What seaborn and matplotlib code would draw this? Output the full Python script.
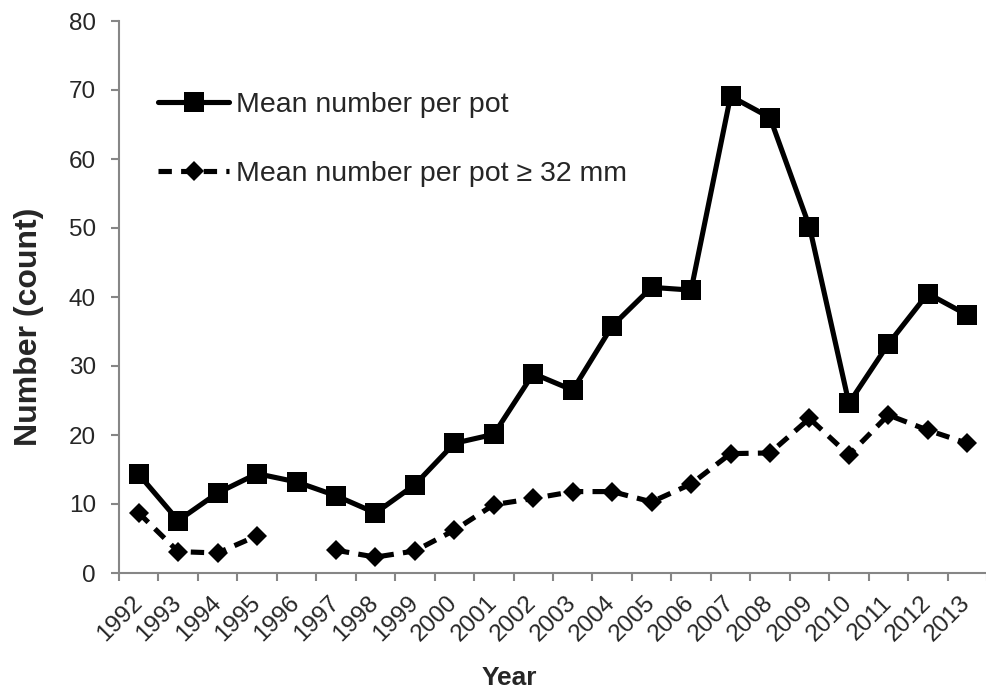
import numpy as np
import pandas as pd
import matplotlib
matplotlib.use("Agg")
import matplotlib.pyplot as plt
import seaborn as sns

years = list(range(1992, 2014))
mean_per_pot = [14.3, 7.6, 11.6, 14.4, 13.2, 11.2, 8.7, 12.8, 18.8, 20.1, 28.9,
                26.5, 35.8, 41.4, 41.0, 69.1, 66.0, 50.2, 24.6, 33.2, 40.5, 37.4]
mean_per_pot_32 = [8.7, 3.1, 2.9, 5.4, np.nan, 3.3, 2.3, 3.2, 6.2, 9.9, 10.8,
                   11.8, 11.8, 10.3, 12.9, 17.3, 17.4, 22.4, 17.1, 22.9, 20.7, 18.8]
label_all = "Mean number per pot"
label_32 = "Mean number per pot \u2265 32 mm"
yticks = [0, 10, 20, 30, 40, 50, 60, 70, 80]

sns.set_theme(style="white")
plt.rcParams["font.family"] = ["Liberation Sans", "DejaVu Sans"]

df1 = pd.DataFrame({"year": years, "value": mean_per_pot})
df2 = pd.DataFrame({"year": years, "value": mean_per_pot_32})
# break the dashed line where data are missing
df2["segment"] = df2["value"].isna().cumsum()
df2 = df2.dropna()

W, H = 987, 689
fig = plt.figure(figsize=(W / 100, H / 100), dpi=100)
ax = fig.add_axes([119 / W, (H - 573) / H, 868 / W, 552 / H])

lw = 3.7
sns.lineplot(data=df1, x="year", y="value", ax=ax, color="black", lw=lw,
             marker="s", markersize=14.8, markeredgewidth=0, label=label_all)
sns.lineplot(data=df2, x="year", y="value", units="segment", estimator=None, ax=ax,
             color="black", lw=lw, linestyle=(0, (2.6, 1.8)),
             marker="D", markersize=9.9, markeredgewidth=0, label=label_32)

ax.set_xlim(1991.5, 1991.5 + 868 / 39.8)
ax.set_ylim(0, 80)
ax.set_yticks(yticks)
ax.set_xticks(years)
ax.set_xticklabels([str(y) for y in years], rotation=45, ha="right", va="center",
                   rotation_mode="anchor", fontsize=17.5)
ax.set_xticks([y - 0.5 for y in years] + [years[-1] + 0.5], minor=True)
ax.tick_params(axis="x", which="major", length=0, pad=19)
ax.tick_params(axis="x", which="minor", length=5.5, width=1.5, color="#868686",
               direction="out", bottom=True)
ax.tick_params(axis="y", length=5.5, width=1.5, color="#868686", direction="out",
               labelsize=17.5, pad=11, left=True)
for s in ["top", "right"]:
    ax.spines[s].set_visible(False)
for s in ["left", "bottom"]:
    ax.spines[s].set_color("#868686")
    ax.spines[s].set_linewidth(1.5)

ax.set_xlabel("Year", fontsize=19, fontweight="bold")
ax.xaxis.set_label_coords((509 - 119) / 868, -(678 - 573) / 552)
ax.xaxis.label.set_va("center")
ax.set_ylabel("Number (count)", fontsize=23, fontweight="bold")
ax.yaxis.set_label_coords(-(119 - 29) / 868, (573 - 327) / 552)
ax.yaxis.label.set_va("center")

handles, labels = ax.get_legend_handles_labels()
seen = {}
for h, l in zip(handles, labels):
    if l not in seen:
        seen[l] = h
ax.legend(list(seen.values()), list(seen.keys()), loc="upper left",
          bbox_to_anchor=(158 / W, 1 - 92 / H), bbox_transform=fig.transFigure,
          frameon=False, fontsize=20.5, handlelength=2.5, handletextpad=0.25,
          labelspacing=1.52, borderpad=0, borderaxespad=0)

fig.savefig("out.png", dpi=100)
